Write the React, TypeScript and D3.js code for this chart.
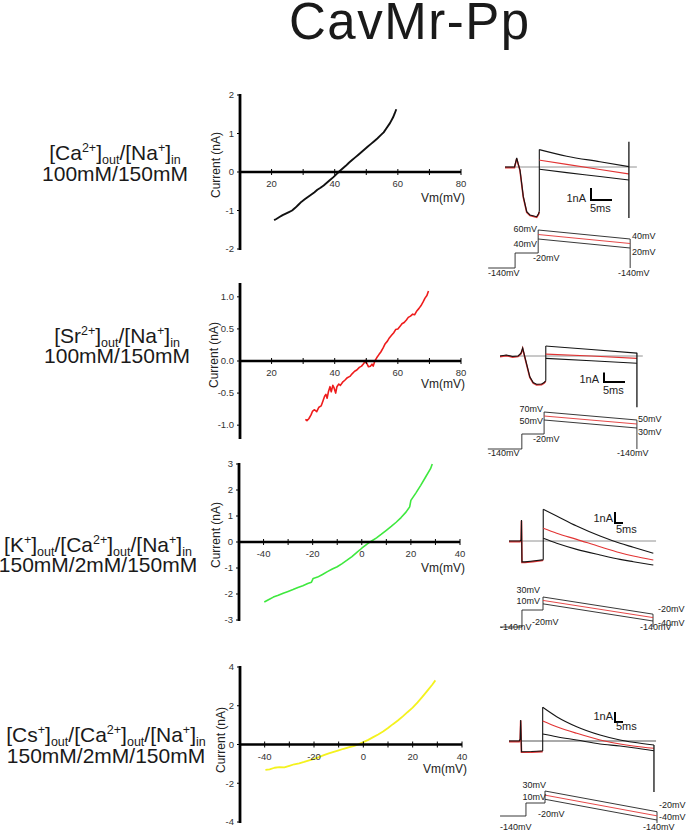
import React from "react";
import * as d3 from "d3";

const FONT = "'Liberation Sans', Arial, Helvetica, sans-serif";

// ---------------- Title ----------------
const title = "CavMr-Pp";

// ---------------- I-V data ----------------
const caVm = [20.8, 21.5, 22.5, 23.5, 24.5, 25.5, 26.5, 27.5, 28.5, 29.5, 30.5, 31.5, 32.5, 33.5, 34.5, 35.5, 36.5, 37.5, 38.5, 39.5, 40.5, 41.5, 42.5, 43.5, 44.5, 45.5, 46.5, 47.5, 48.5, 49.5, 50.5, 51.5, 52.5, 53.5, 54.5, 55.5, 56.5, 57.5, 58.5, 59.0, 59.5];
const caI = [-1.25, -1.22, -1.17, -1.12, -1.08, -1.04, -1.0, -0.93, -0.85, -0.77, -0.71, -0.65, -0.59, -0.53, -0.46, -0.41, -0.35, -0.28, -0.21, -0.14, -0.06, 0.02, 0.09, 0.16, 0.24, 0.31, 0.38, 0.45, 0.52, 0.59, 0.66, 0.73, 0.8, 0.87, 0.95, 1.03, 1.15, 1.27, 1.42, 1.52, 1.63];

const srVm = [30.7, 31.2, 31.8, 32.5, 33.0, 33.6, 34.3, 35.0, 35.7, 36.3, 36.8, 37.2, 37.6, 38.0, 38.5, 38.9, 39.4, 39.8, 40.3, 40.7, 41.3, 41.8, 42.5, 43.2, 44.0, 44.8, 45.5, 46.3, 47.0, 47.8, 48.5, 49.2, 49.7, 50.2, 50.7, 51.3, 51.8, 52.2, 52.7, 53.3, 54.0, 54.6, 55.3, 56.0, 56.7, 57.3, 58.0, 58.7, 59.3, 60.0, 60.7, 61.3, 62.0, 62.7, 63.3, 64.0, 64.7, 65.3, 66.0, 66.7, 67.3, 68.0, 68.6, 69.2, 69.7];
const srI = [-0.91, -0.93, -0.9, -0.84, -0.78, -0.76, -0.79, -0.72, -0.7, -0.62, -0.55, -0.52, -0.58, -0.48, -0.4, -0.48, -0.38, -0.42, -0.5, -0.4, -0.36, -0.38, -0.33, -0.3, -0.26, -0.24, -0.2, -0.16, -0.14, -0.1, -0.08, -0.04, 0.01, -0.04, -0.09, -0.08, -0.05, -0.08, 0.0, 0.05, 0.1, 0.14, 0.2, 0.27, 0.31, 0.36, 0.4, 0.44, 0.49, 0.5, 0.54, 0.58, 0.6, 0.64, 0.68, 0.7, 0.73, 0.72, 0.78, 0.82, 0.86, 0.92, 0.98, 1.02, 1.09];

const kVm = [-39.7, -38, -36, -34, -32, -30, -28, -26, -24, -22, -20.5, -19.8, -18, -16, -14, -12, -10, -8, -6, -4, -2, 0, 2, 4, 6, 8, 10, 12, 14, 16, 18, 19.5, 20, 22, 24, 26, 28, 28.7];
const kI = [-2.31, -2.22, -2.12, -2.05, -1.97, -1.9, -1.83, -1.75, -1.68, -1.6, -1.55, -1.4, -1.35, -1.25, -1.14, -1.04, -0.95, -0.83, -0.7, -0.56, -0.4, -0.24, -0.09, 0.04, 0.16, 0.3, 0.45, 0.6, 0.76, 0.94, 1.15, 1.35, 1.6, 1.88, 2.18, 2.5, 2.82, 3.0];

const csVm = [-39.7, -38, -36, -34, -32, -30, -28, -26, -24, -22, -20, -18, -16, -14, -12, -10, -8, -6, -4, -2, 0, 2, 4, 6, 8, 10, 12, 14, 16, 18, 20, 22, 24, 26, 28, 29.2];
const csI = [-1.31, -1.28, -1.2, -1.17, -1.18, -1.1, -1.02, -0.97, -0.9, -0.82, -0.74, -0.65, -0.55, -0.46, -0.38, -0.3, -0.22, -0.15, -0.08, 0.01, 0.12, 0.24, 0.38, 0.52, 0.67, 0.85, 1.05, 1.24, 1.45, 1.68, 1.9, 2.17, 2.47, 2.78, 3.1, 3.31];

// ---------------- tick values ----------------
const posXTicks = [20, 30, 40, 50, 60, 70, 80];
const posXLabels = [20, 40, 60, 80];
const negXTicks = [-40, -30, -20, -10, 0, 10, 20, 30, 40];
const negXLabels = [-40, -20, 0, 20, 40];
const caYTicks = [-2, -1, 0, 1, 2];
const srYTicks = [-1, -0.5, 0, 0.5, 1];
const kYTicks = [-3, -2, -1, 0, 1, 2, 3];
const csYTicks = [-4, -2, 0, 2, 4];

// ---------------- solution labels ----------------
type Part = [string, "n" | "sup" | "sub"];
const caLabel: Part[] = [["[Ca", "n"], ["2+", "sup"], ["]", "n"], ["out", "sub"], ["/[Na", "n"], ["+", "sup"], ["]", "n"], ["in", "sub"]];
const srLabel: Part[] = [["[Sr", "n"], ["2+", "sup"], ["]", "n"], ["out", "sub"], ["/[Na", "n"], ["+", "sup"], ["]", "n"], ["in", "sub"]];
const kLabel: Part[] = [["[K", "n"], ["+", "sup"], ["]", "n"], ["out", "sub"], ["/[Ca", "n"], ["2+", "sup"], ["]", "n"], ["out", "sub"], ["/[Na", "n"], ["+", "sup"], ["]", "n"], ["in", "sub"]];
const csLabel: Part[] = [["[Cs", "n"], ["+", "sup"], ["]", "n"], ["out", "sub"], ["/[Ca", "n"], ["2+", "sup"], ["]", "n"], ["out", "sub"], ["/[Na", "n"], ["+", "sup"], ["]", "n"], ["in", "sub"]];
const caConc = "100mM/150mM";
const srConc = "100mM/150mM";
const kConc = "150mM/2mM/150mM";
const csConc = "150mM/2mM/150mM";

// ---------------- current traces (ms, nA) ----------------
const caPreT = [0, 2.26, 2.79, 3.1, 3.57, 4.36, 5.17, 5.95, 7.55, 7.98, 8.17];
const caPreI = [0, 0, 0.75, 0.33, -0.25, -2.47, -3.72, -4.0, -4.14, -3.9, -3.7];
const caTestT = [8.17, 14.7, 22.6, 29.5];
const caTopI = [1.45, 0.9, 0.44, 0.03];
const caRedI = [0.58, 0.22, -0.21, -0.58];
const caBotI = [-0.19, -0.47, -0.79, -1.08];
const caSpike = [29.5, 2.1, -4.25];
const caBase = [0, 31.4];

const srPreT = [0, 1.5, 3.0, 4.3, 5.0, 5.4, 6.0, 7.1, 7.9, 8.7, 9.9, 10.5, 10.9];
const srPreI = [0, 0.1, -0.05, 0, 0.3, 0.85, -0.25, -2.2, -2.8, -2.98, -2.95, -2.8, -2.6];
const srTestT = [10.9, 21.7, 32.6];
const srTopI = [1.05, 0.68, 0.3];
const srRedI = [0.2, 0.0, -0.25];
const srBotI = [-0.25, -0.5, -0.77];
const srSpike = [32.6, 0.35, -5.4];
const srBase = [0, 34];

const kPreT = [0, 6.9, 7.6, 7.8, 8.1, 10, 15, 20.8, 21.4];
const kPreI = [0, 0, 0.1, 1.9, -1.9, -1.9, -1.82, -1.72, -1.7];
const kTestT = [21.4, 29.8, 42.3, 56.9, 69.4, 77.7, 90.2];
const kTopI = [2.88, 2.27, 1.36, 0.45, -0.21, -0.57, -1.12];
const kRedI = [1.15, 0.7, 0.15, -0.52, -1.06, -1.36, -1.73];
const kBotI = [0.24, -0.21, -0.76, -1.27, -1.67, -1.88, -2.18];
const kBase = [0, 91.9];

const csPreT = [0, 6.4, 7.0, 7.3, 7.8, 8.5, 14, 20.4, 21.05];
const csPreI = [0, 0, 0.2, 2.1, -1.07, -1.07, -1.05, -1.0, -1.0];
const csTestT = [21.05, 29.8, 42.3, 56.9, 69.4, 77.7, 90.6];
const csTopI = [3.37, 2.43, 1.43, 0.6, 0.1, -0.13, -0.4];
const csRedI = [2.0, 1.43, 0.77, 0.1, -0.3, -0.5, -0.73];
const csBotI = [0.7, 0.43, 0.1, -0.3, -0.5, -0.67, -0.97];
const csSpike = [90.6, -0.4, -5.1];
const csBase = [0, 91.9];

// ---------------- voltage protocols ----------------
// times (ms): hold start, prepulse start, test start, test end
const caProtT = [-4.0, 2.4, 7.9, 29.8];
const srProtT = [-2.9, 5.2, 10.5, 32.6];
const kProtT = [-5.6, 8.1, 21.25, 90];
const csProtT = [-5.6, 10.6, 22.5, 92.5];
const holdMv = -140;
const preMv = -20;
const caStartMv = [60, 50, 40];
const caEndMv = [40, 30, 20];
const srStartMv = [70, 60, 50];
const srEndMv = [50, 40, 30];
const kStartMv = [30, 20, 10];
const kEndMv = [-20, -30, -40];
const csStartMv = [30, 20, 10];
const csEndMv = [-20, -30, -40];

// ---------------- layout ----------------
const zip = (a: number[], b: number[]): [number, number][] => a.map((v, i) => [v, b[i]]);
const intFmt = (v: number) => String(v);
const oneFmt = (v: number) => v.toFixed(1);

const ivPanels = [
  { vm: caVm, cur: caI, color: "#111111", sw: 1.9, xDomain: [10, 80], xRange: [240, 461], yDomain: [-2, 2], yRange: [249, 95], xTicks: posXTicks, xLabels: posXLabels, yTicks: caYTicks, fmt: intFmt, curLbl: [220, 165], vmLbl: [465, 202], label: caLabel, conc: caConc, lblX: 115, lblY: [160, 181] },
  { vm: srVm, cur: srI, color: "#ee1c1c", sw: 1.6, xDomain: [10, 80], xRange: [240, 461], yDomain: [-1.2, 1.2], yRange: [438, 284], xTicks: posXTicks, xLabels: posXLabels, yTicks: srYTicks, fmt: oneFmt, curLbl: [218, 355], vmLbl: [465, 388], label: srLabel, conc: srConc, lblX: 117, lblY: [343, 363] },
  { vm: kVm, cur: kI, color: "#3ee83e", sw: 1.6, xDomain: [-50, 40], xRange: [239, 460], yDomain: [-3, 3], yRange: [620, 464], xTicks: negXTicks, xLabels: negXLabels, yTicks: kYTicks, fmt: intFmt, curLbl: [220, 535], vmLbl: [465, 572], label: kLabel, conc: kConc, lblX: 98, lblY: [552, 572] },
  { vm: csVm, cur: csI, color: "#f4f21e", sw: 1.8, xDomain: [-50, 40], xRange: [240, 462], yDomain: [-4, 4], yRange: [822, 667], xTicks: negXTicks, xLabels: negXLabels, yTicks: csYTicks, fmt: intFmt, curLbl: [225, 740], vmLbl: [467, 773], label: csLabel, conc: csConc, lblX: 106, lblY: [742, 763] },
];

const tracePanels = [
  {
    x0: 505, pxMs: 4.2, base: 167, pxNA: 12,
    preT: caPreT, preI: caPreI, testT: caTestT, top: caTopI, red: caRedI, bot: caBotI, spike: caSpike, baseT: caBase, baseW: 0.8, baseC: "#777",
    bar: [591, 200], nA: [586, 202], ms: [590, 212],
    protT: caProtT, startMv: caStartMv, endMv: caEndMv,
    preDom: [-140, -20], preRng: [268, 253], testDom: [-140, 20, 60], testRng: [268, 248, 230],
    vLabels: [["60mV", 537, 232, "end"], ["40mV", 537, 247, "end"], ["-20mV", 533, 261, "start"], ["40mV", 632, 239, "start"], ["20mV", 632, 255, "start"], ["-140mV", 618, 276, "start"], ["-140mV", 488, 276, "start"]],
  },
  {
    x0: 500, pxMs: 4.2, base: 356, pxNA: 9.5,
    preT: srPreT, preI: srPreI, testT: srTestT, top: srTopI, red: srRedI, bot: srBotI, spike: srSpike, baseT: srBase, baseW: 0.8, baseC: "#777",
    bar: [604, 382], nA: [599, 383], ms: [603, 394],
    protT: srProtT, startMv: srStartMv, endMv: srEndMv,
    preDom: [-140, -20], preRng: [449, 434], testDom: [-140, 30, 70], testRng: [449, 428, 412],
    vLabels: [["70mV", 543, 412, "end"], ["50mV", 543, 424, "end"], ["-20mV", 533, 442, "start"], ["50mV", 638, 422, "start"], ["30mV", 638, 435, "start"], ["-140mV", 617, 456, "start"], ["-140mV", 488, 456, "start"]],
  },
  {
    x0: 509, pxMs: 1.6, base: 541, pxNA: 11,
    preT: kPreT, preI: kPreI, testT: kTestT, top: kTopI, red: kRedI, bot: kBotI, spike: null, baseT: kBase, baseW: 0.8, baseC: "#777",
    bar: [615, 523], nA: [613, 522], ms: [616, 533],
    protT: kProtT, startMv: kStartMv, endMv: kEndMv,
    preDom: [-140, -20], preRng: [627, 610], testDom: [-140, -40, 30], testRng: [627, 621, 597],
    vLabels: [["30mV", 540, 593, "end"], ["10mV", 540, 604, "end"], ["-20mV", 532, 625, "start"], ["-20mV", 658, 612, "start"], ["-40mV", 658, 626, "start"], ["-140mV", 640, 630, "start"], ["-140mV", 500, 630, "start"]],
  },
  {
    x0: 509, pxMs: 1.6, base: 741, pxNA: 10,
    preT: csPreT, preI: csPreI, testT: csTestT, top: csTopI, red: csRedI, bot: csBotI, spike: csSpike, baseT: csBase, baseW: 1.8, baseC: "#aaa",
    bar: [615, 722], nA: [613, 720], ms: [616, 730],
    protT: csProtT, startMv: csStartMv, endMv: csEndMv,
    preDom: [-140, -20], preRng: [816, 803], testDom: [-140, -40, 30], testRng: [823, 820, 791],
    vLabels: [["30mV", 546, 788, "end"], ["10mV", 546, 800, "end"], ["-20mV", 538, 817, "start"], ["-20mV", 659, 808, "start"], ["-40mV", 659, 820, "start"], ["-140mV", 643, 830, "start"], ["-140mV", 500, 830, "start"]],
  },
];

function IonLabel({ parts, conc, x, ys }: { parts: Part[]; conc: string; x: number; ys: number[] }) {
  let level = 0;
  const spans = parts.map((p, i) => {
    const target = p[1] === "sup" ? -8.5 : p[1] === "sub" ? 3.5 : 0;
    const dy = target - level;
    level = target;
    return (
      <tspan key={i} dy={dy} fontSize={p[1] === "n" ? 21 : 12.5}>
        {p[0]}
      </tspan>
    );
  });
  return (
    <g fontFamily={FONT} fill="#1a1a1a">
      <text x={x} y={ys[0]} textAnchor="middle" fontSize={21}>
        {spans}
      </text>
      <text x={x} y={ys[1]} textAnchor="middle" fontSize={21}>
        {conc}
      </text>
    </g>
  );
}

function IVPanel({ p }: { p: (typeof ivPanels)[number] }) {
  const xs = d3.scaleLinear().domain(p.xDomain).range(p.xRange);
  const ys = d3.scaleLinear().domain(p.yDomain).range(p.yRange);
  const line = d3
    .line<[number, number]>()
    .x((d) => xs(d[0]))
    .y((d) => ys(d[1]));
  const y0 = ys(0);
  const ax = p.xRange[0];
  return (
    <g fontFamily={FONT}>
      <path d={line(zip(p.vm, p.cur)) || ""} fill="none" stroke={p.color} strokeWidth={p.sw} strokeLinejoin="round" />
      <line x1={ax} x2={p.xRange[1]} y1={y0} y2={y0} stroke="#000" strokeWidth={2.6} />
      <line x1={ax} x2={ax} y1={p.yRange[0] + 1} y2={p.yRange[1] - 1} stroke="#000" strokeWidth={2.8} />
      {p.xTicks.map((t) => (
        <line key={"xt" + t} x1={xs(t)} x2={xs(t)} y1={y0 - 3} y2={y0 + 3} stroke="#000" strokeWidth={1} />
      ))}
      {p.xLabels.map((t) => (
        <text key={"xl" + t} x={xs(t)} y={y0 + 15} textAnchor="middle" fontSize={9.5} fill="#333">
          {t}
        </text>
      ))}
      {p.yTicks.map((t) => (
        <g key={"yt" + t}>
          <line x1={ax - 3} x2={ax} y1={ys(t)} y2={ys(t)} stroke="#000" strokeWidth={1} />
          <text x={ax - 6} y={ys(t) + 3.3} textAnchor="end" fontSize={9.5} fill="#333">
            {p.fmt(t)}
          </text>
        </g>
      ))}
      <text transform={`translate(${p.curLbl[0]},${p.curLbl[1]}) rotate(-90)`} textAnchor="middle" fontSize={12} fill="#222">
        Current (nA)
      </text>
      <text x={p.vmLbl[0]} y={p.vmLbl[1]} textAnchor="end" fontSize={12} fill="#222">
        Vm(mV)
      </text>
      <IonLabel parts={p.label} conc={p.conc} x={p.lblX} ys={p.lblY} />
    </g>
  );
}

function TracePanel({ p }: { p: (typeof tracePanels)[number] }) {
  const xs = d3.scaleLinear().domain([0, 1]).range([p.x0, p.x0 + p.pxMs]);
  const ys = d3.scaleLinear().domain([0, 1]).range([p.base, p.base - p.pxNA]);
  const line = d3
    .line<[number, number]>()
    .x((d) => xs(d[0]))
    .y((d) => ys(d[1]));
  const smooth = d3
    .line<[number, number]>()
    .x((d) => xs(d[0]))
    .y((d) => ys(d[1]))
    .curve(d3.curveMonotoneX);
  const pre = zip(p.preT, p.preI);
  const last = pre[pre.length - 1];
  const tStart = p.testT[0];
  const blackC = "#151515";
  const redC = "#e23434";

  const preY = d3.scaleLinear().domain(p.preDom).range(p.preRng);
  const testY = d3.scaleLinear().domain(p.testDom).range(p.testRng);
  const [th, tp, tt, te] = p.protT;
  const protMain = `M${xs(th)},${preY(holdMv)}H${xs(tp)}V${preY(preMv)}H${xs(tt)}V${testY(p.startMv[0])}L${xs(te)},${testY(p.endMv[0])}V${testY(holdMv)}`;
  const ramp = (i: number) => `M${xs(tt)},${testY(p.startMv[i])}L${xs(te)},${testY(p.endMv[i])}`;

  const barLenX = xs(5) - xs(0);
  const barLenY = ys(0) - ys(1);

  return (
    <g fontFamily={FONT}>
      <line x1={xs(p.baseT[0])} x2={xs(p.baseT[1])} y1={ys(0)} y2={ys(0)} stroke={p.baseC} strokeWidth={p.baseW} />
      <path d={line(pre) || ""} fill="none" stroke={redC} strokeWidth={1.6} transform="translate(0,0.6)" />
      <path d={line(pre) || ""} fill="none" stroke={blackC} strokeWidth={1.1} />
      <line x1={xs(tStart)} x2={xs(tStart)} y1={ys(last[1])} y2={ys(p.top[0])} stroke={blackC} strokeWidth={1.1} />
      <path d={smooth(zip(p.testT, p.bot)) || ""} fill="none" stroke={blackC} strokeWidth={1.1} />
      <path d={smooth(zip(p.testT, p.red)) || ""} fill="none" stroke={redC} strokeWidth={1.1} />
      <path d={smooth(zip(p.testT, p.top)) || ""} fill="none" stroke={blackC} strokeWidth={1.1} />
      {p.spike && (
        <line x1={xs(p.spike[0])} x2={xs(p.spike[0])} y1={ys(p.spike[1])} y2={ys(p.spike[2])} stroke={blackC} strokeWidth={1.3} />
      )}
      <path d={`M${p.bar[0]},${p.bar[1] - barLenY}V${p.bar[1]}H${p.bar[0] + barLenX}`} fill="none" stroke="#000" strokeWidth={2} />
      <text x={p.nA[0]} y={p.nA[1]} textAnchor="end" fontSize={11} fill="#222">1nA</text>
      <text x={p.ms[0]} y={p.ms[1]} textAnchor="start" fontSize={11} fill="#222">5ms</text>
      <path d={protMain} fill="none" stroke="#222" strokeWidth={0.9} />
      <path d={ramp(1)} fill="none" stroke={redC} strokeWidth={0.9} />
      <path d={ramp(2)} fill="none" stroke="#222" strokeWidth={0.9} />
      {p.vLabels.map((l, i) => (
        <text key={i} x={l[1] as number} y={l[2] as number} textAnchor={l[3] as any} fontSize={9} fill="#222">
          {l[0]}
        </text>
      ))}
    </g>
  );
}

export default function App() {
  return (
    <svg width={686} height={835} viewBox="0 0 686 835" style={{ position: "absolute", left: 0, top: 0, background: "#fff" }}>
      <rect width={686} height={835} fill="#fff" />
      <text x={289} y={39} fontFamily={FONT} fontSize={51} letterSpacing={1.5} fill="#1a1a1a">
        {title}
      </text>
      {ivPanels.map((p, i) => (
        <IVPanel key={i} p={p} />
      ))}
      {tracePanels.map((p, i) => (
        <TracePanel key={i} p={p} />
      ))}
    </svg>
  );
}
